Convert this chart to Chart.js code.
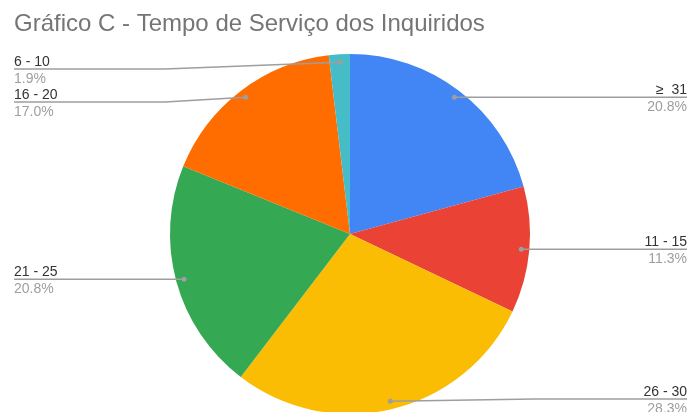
<!DOCTYPE html>
<html>
<head>
<meta charset="utf-8">
<script src="https://cdn.jsdelivr.net/npm/chart.js@4"></script>
<style>
  html, body { margin: 0; padding: 0; background: #fff; overflow: hidden; }
</style>
</head>
<body>
<canvas id="myChart" width="689" height="412"></canvas>
<script>
var chartTitle = 'Gráfico C - Tempo de Serviço dos Inquiridos';
var categories = ['≥  31', '11 - 15', '26 - 30', '21 - 25', '16 - 20', '6 - 10'];
var counts = [11, 6, 15, 11, 9, 1];
var sliceColors = ['#4285F4', '#EA4335', '#FBBC04', '#34A853', '#FF6D01', '#46BDC6'];

var fontFamily = 'Arial, "Liberation Sans", sans-serif';

// draws the title and the leader-line labels like the Sheets chart
var labelsPlugin = {
  id: 'sideLabels',
  afterDraw: function (chart) {
    var c = chart.ctx;
    var meta = chart.getDatasetMeta(0);
    var total = counts.reduce(function (a, b) { return a + b; }, 0);
    var W = chart.width;

    c.save();
    c.fillStyle = '#757575';
    c.font = '24px ' + fontFamily;
    c.textAlign = 'left';
    c.textBaseline = 'alphabetic';
    c.fillText(chartTitle, 14, 31);

    var items = [];
    meta.data.forEach(function (arc, i) {
      var p = arc.getProps(['x', 'y', 'startAngle', 'endAngle', 'outerRadius'], true);
      var mid = (p.startAngle + p.endAngle) / 2;
      var r = p.outerRadius - 8;
      var dx = p.x + Math.cos(mid) * r;
      var dy = p.y + Math.sin(mid) * r;
      items.push({
        i: i, dx: dx, dy: dy, cx: p.x, R: p.outerRadius,
        right: Math.cos(mid) >= 0,
        ly: Math.min(Math.max(dy, 69), 399)
      });
    });

    [true, false].forEach(function (side) {
      var list = items.filter(function (it) { return it.right === side; })
        .sort(function (a, b) { return a.ly - b.ly; });
      for (var k = 1; k < list.length; k++) {
        if (list[k].ly < list[k - 1].ly + 33) list[k].ly = list[k - 1].ly + 33;
      }
    });

    items.forEach(function (it) {
      var pct = (counts[it.i] / total * 100).toFixed(1) + '%';
      var endX = it.right ? W - 2 : 14;
      var bendX = it.right ? it.cx + it.R + 5 : it.cx - it.R - 5;

      c.strokeStyle = '#9E9E9E';
      c.lineWidth = 1.5;
      c.beginPath();
      c.moveTo(it.dx, it.dy);
      if (Math.abs(it.ly - it.dy) > 0.5) {
        c.lineTo(bendX, it.ly);
      }
      c.lineTo(endX, it.ly);
      c.stroke();

      c.fillStyle = '#9E9E9E';
      c.beginPath();
      c.arc(it.dx, it.dy, 2.5, 0, Math.PI * 2);
      c.fill();

      c.textAlign = it.right ? 'right' : 'left';
      c.font = '14px ' + fontFamily;
      c.fillStyle = '#333333';
      c.fillText(categories[it.i], endX, it.ly - 3);
      c.fillStyle = '#9E9E9E';
      c.fillText(pct, endX, it.ly + 14);
    });
    c.restore();
  }
};

var ctx = document.getElementById('myChart');

var pieChart = new Chart(ctx, {
  type: 'pie',
  data: {
    labels: categories,
    datasets: [{
      data: counts,
      backgroundColor: sliceColors,
      borderWidth: 0
    }]
  },
  options: {
    responsive: false,
    animation: false,
    radius: 180,
    layout: {
      padding: { left: 170, right: 159, top: 100, bottom: 44 }
    },
    plugins: {
      legend: { display: false },
      tooltip: { enabled: false }
    }
  },
  plugins: [labelsPlugin]
});
</script>
</body>
</html>
